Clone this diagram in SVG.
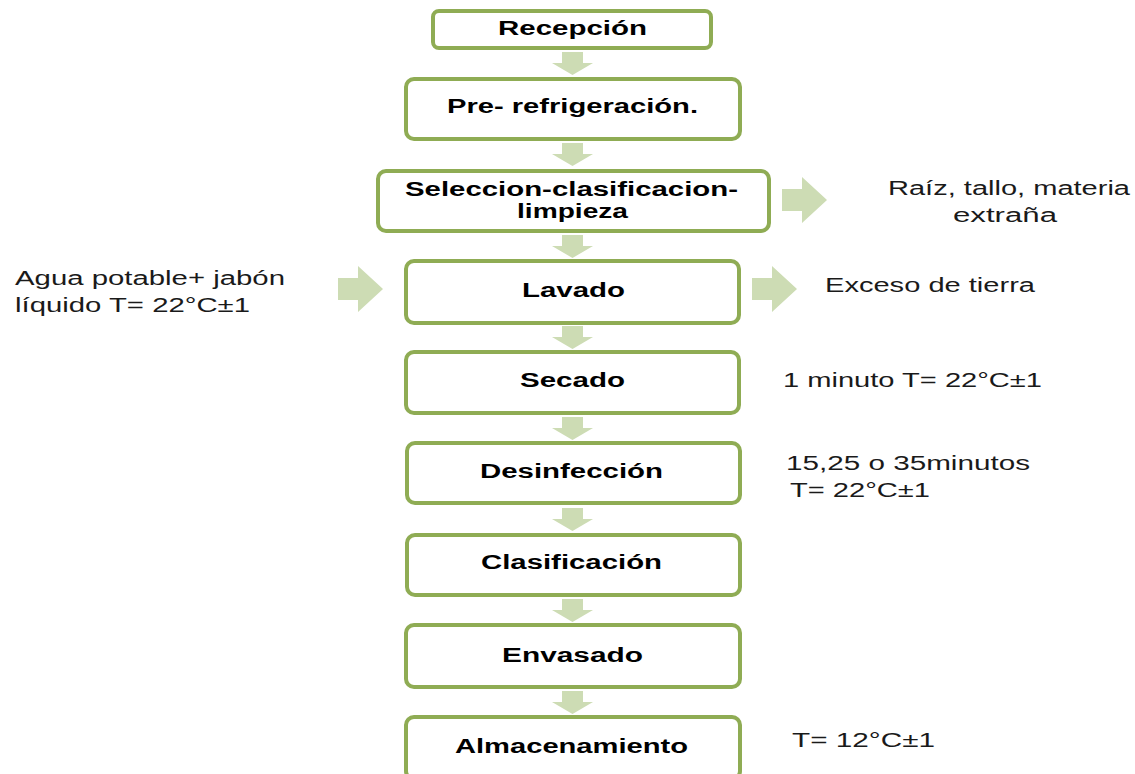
<svg xmlns="http://www.w3.org/2000/svg" width="1135" height="774" viewBox="0 0 1135 774">
<style>
.box{fill:#ffffff;stroke:#8fac54;stroke-width:4}
.arr{fill:#cddcb4}
.lbl{font-family:"Liberation Sans",Arial,sans-serif;font-weight:bold;font-size:20px;fill:#000;text-anchor:start}
.side{font-family:"Liberation Sans",Arial,sans-serif;font-size:20px;fill:#1a1a1a}
</style>
<rect width="1135" height="774" fill="#ffffff"/>
<g id="connectors">
<path class="arr" d="M562,52H583V63H593L572.5,75L552,63H562Z"/>
<path class="arr" d="M562,143H583V154H593L572.5,166L552,154H562Z"/>
<path class="arr" d="M562,235H583V246H593L572.5,258L552,246H562Z"/>
<path class="arr" d="M562,326H583V337H593L572.5,349L552,337H562Z"/>
<path class="arr" d="M562,417H583V428H593L572.5,440L552,428H562Z"/>
<path class="arr" d="M562,508H583V519H593L572.5,531L552,519H562Z"/>
<path class="arr" d="M562,599H583V610H593L572.5,622L552,610H562Z"/>
<path class="arr" d="M562,691H583V702H593L572.5,714L552,702H562Z"/>
<path class="arr" d="M782,189V211H802V223L827,200L802,177V189Z"/>
<path class="arr" d="M752,278V300H772V312L797,289L772,266V278Z"/>
<path class="arr" d="M338,278V300H358V312L383,289L358,266V278Z"/>
</g>
<g id="n1"><rect class="box" x="433" y="11" width="278" height="37" rx="6"/><text class="lbl" x="498" y="35" textLength="149" lengthAdjust="spacingAndGlyphs">Recepción</text></g>
<g id="n2"><rect class="box" x="406" y="79" width="334" height="60" rx="8"/><text class="lbl" x="447" y="113" textLength="251" lengthAdjust="spacingAndGlyphs">Pre- refrigeración.</text></g>
<g id="n3"><rect class="box" x="378" y="171" width="391" height="60" rx="8"/><text class="lbl" x="405" y="196" font-size="19" textLength="333" lengthAdjust="spacingAndGlyphs">Seleccion-clasificacion-</text><text class="lbl" x="517" y="218" font-size="19" textLength="111" lengthAdjust="spacingAndGlyphs">limpieza</text></g>
<g id="n4"><rect class="box" x="406" y="261" width="333" height="62" rx="8"/><text class="lbl" x="522" y="297" textLength="103" lengthAdjust="spacingAndGlyphs">Lavado</text></g>
<g id="n5"><rect class="box" x="406" y="352" width="333" height="61" rx="8"/><text class="lbl" x="520" y="387" textLength="105" lengthAdjust="spacingAndGlyphs">Secado</text></g>
<g id="n6"><rect class="box" x="407" y="443" width="333" height="60" rx="8"/><text class="lbl" x="480" y="478" textLength="183" lengthAdjust="spacingAndGlyphs">Desinfección</text></g>
<g id="n7"><rect class="box" x="407" y="535" width="333" height="60" rx="8"/><text class="lbl" x="481" y="569" textLength="181" lengthAdjust="spacingAndGlyphs">Clasificación</text></g>
<g id="n8"><rect class="box" x="406" y="625" width="334" height="62" rx="8"/><text class="lbl" x="502" y="662" textLength="141" lengthAdjust="spacingAndGlyphs">Envasado</text></g>
<g id="n9"><rect class="box" x="406" y="717" width="334" height="62" rx="8"/><text class="lbl" x="455" y="753" textLength="233" lengthAdjust="spacingAndGlyphs">Almacenamiento</text></g>
<g id="notes">
<text class="side" x="15" y="285" textLength="270" lengthAdjust="spacingAndGlyphs">Agua potable+ jabón</text>
<text class="side" x="15" y="312" textLength="235" lengthAdjust="spacingAndGlyphs">líquido T= 22°C±1</text>
<text class="side" x="888" y="195" textLength="242" lengthAdjust="spacingAndGlyphs">Raíz, tallo, materia</text>
<text class="side" x="953" y="222" textLength="104" lengthAdjust="spacingAndGlyphs">extraña</text>
<text class="side" x="825" y="292" textLength="210" lengthAdjust="spacingAndGlyphs">Exceso de tierra</text>
<text class="side" x="783" y="387" textLength="259" lengthAdjust="spacingAndGlyphs">1 minuto T= 22°C±1</text>
<text class="side" x="786" y="470" textLength="244" lengthAdjust="spacingAndGlyphs">15,25 o 35minutos</text>
<text class="side" x="790" y="497" textLength="140" lengthAdjust="spacingAndGlyphs">T= 22°C±1</text>
<text class="side" x="792" y="747" textLength="143" lengthAdjust="spacingAndGlyphs">T= 12°C±1</text>
</g>
</svg>
